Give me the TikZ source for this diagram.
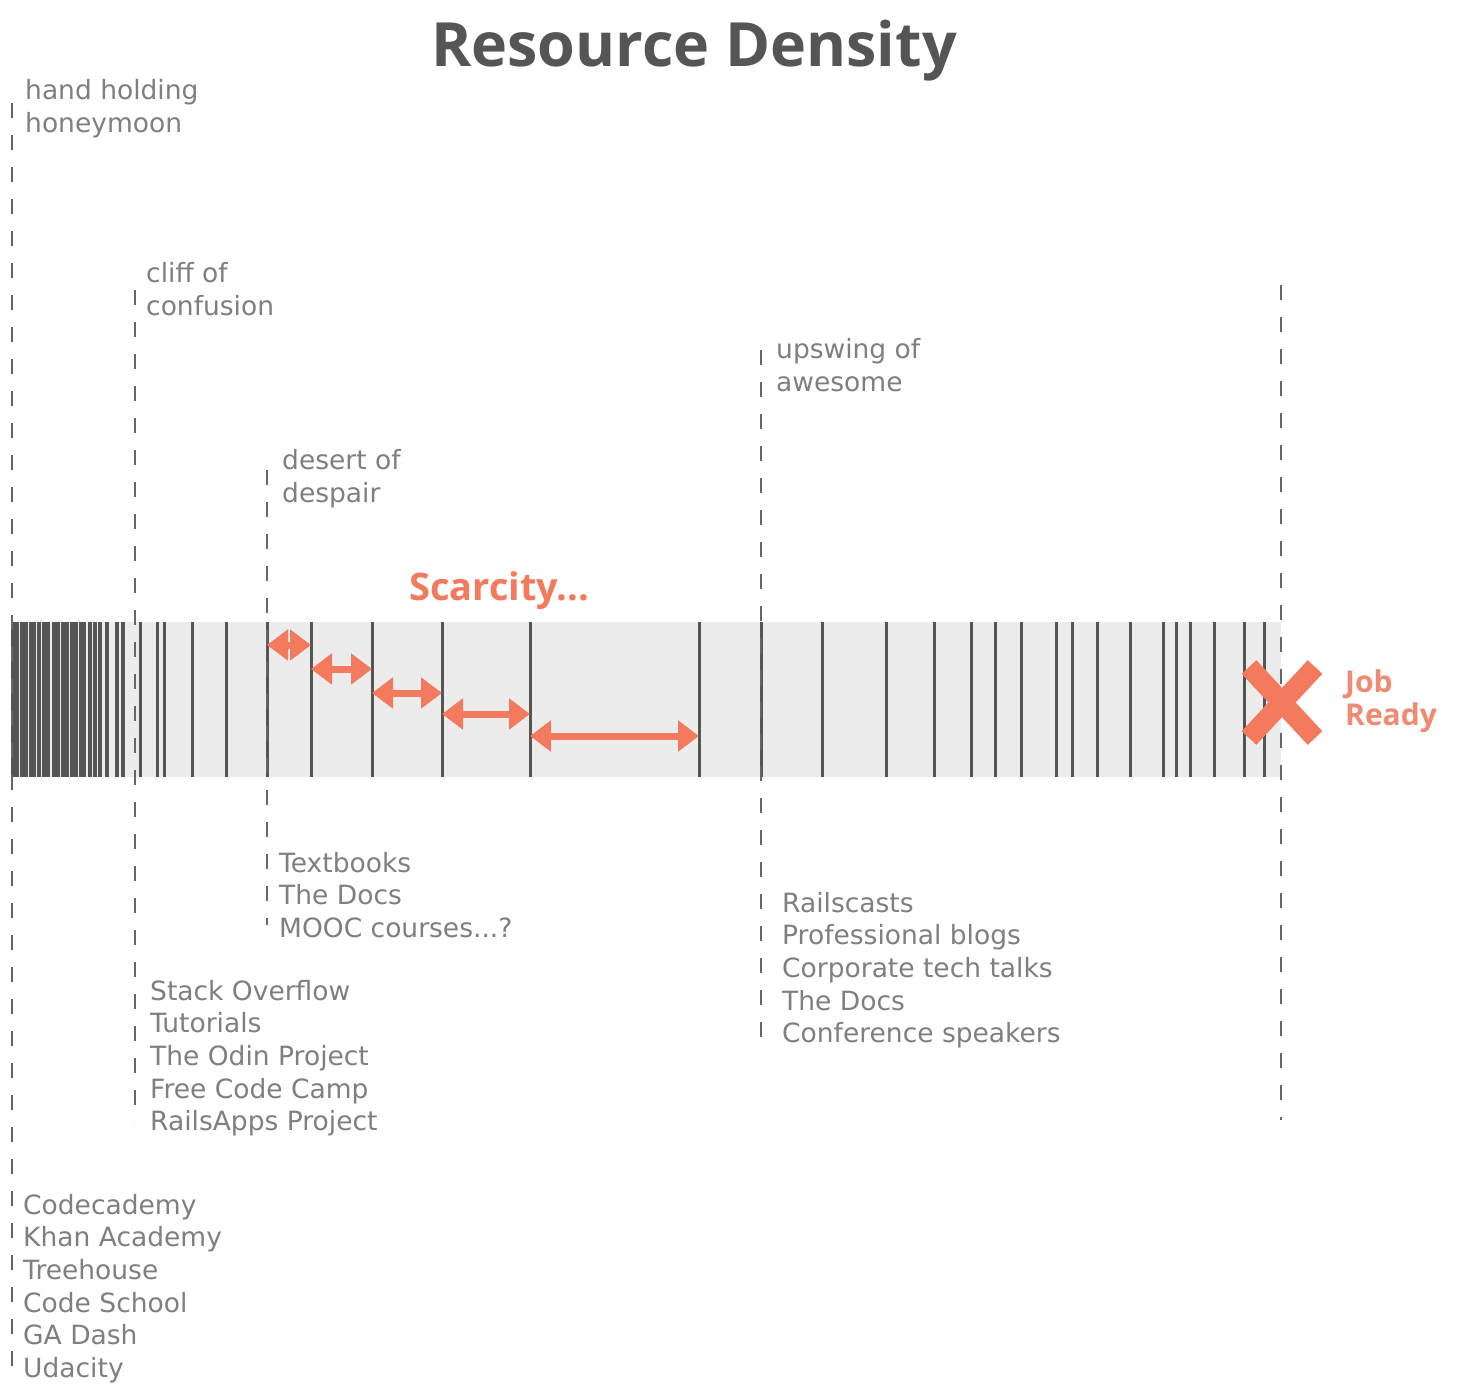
\documentclass[tikz,border=0pt]{standalone}
\usepackage{fontspec}
\setmainfont{DejaVu Sans}
\newfontfamily\headfont{Open Sans}
\usetikzlibrary{arrows.meta}
\definecolor{titlegray}{HTML}{555555}
\definecolor{lblgray}{HTML}{7F7F7F}
\definecolor{tickgray}{HTML}{555555}
\definecolor{dashgray}{HTML}{666666}
\definecolor{barbg}{HTML}{ECECEC}
\definecolor{salmon}{HTML}{F47A5E}
\definecolor{salmonlt}{HTML}{F08A72}
\tikzset{
  lbl/.style={anchor=base west, inner sep=0pt, text=lblgray, font=\fontsize{26.5}{33}\selectfont},
  tick/.style={draw=tickgray, line width=3pt},
  guide/.style={draw=dashgray, line width=2.4pt, dash pattern=on 15pt off 17pt},
  stip/.tip={Triangle[length=21pt 0 0,width=30pt 0 0]},
  sarrow/.style={draw=salmon, fill=salmon, line width=7pt, stip-stip},
  xmark/.style={draw=salmon, line width=20pt},
  headtxt/.style={anchor=base west, inner sep=0pt, font=\headfont\bfseries\fontsize{30}{33}\selectfont, text=salmonlt}
}
\begin{document}
\begin{tikzpicture}[x=1pt,y=-1pt]
\useasboundingbox (0,0) rectangle (1459,1394);
\fill[white] (0,0) rectangle (1459,1394);

% title
\node[anchor=base, inner sep=0pt, font=\headfont\bfseries\fontsize{61}{70}\selectfont, text=titlegray] (title) at (694,67) {Resource Density};

% bar background
\fill[barbg] (12,622) rectangle (1281,777);

% bar ticks
\foreach \x [count=\i] in {13,17,22,26,31,34,39,44,48,54,58,63,67,72,76,81,84,90,95,100,107,117,123}
  \draw[tick, line width=3.5pt] (\x,622) -- (\x,777);
\foreach \x [count=\i] in {140,157,164,192,226,267,311,372,442,530,699,761,822,886,934,971,995,1021,1056,1072,1097,1130,1163,1176,1190,1214,1244,1264}
  \draw[tick] (\x,622) -- (\x,777);

% dashed guides
\draw[guide] (12,103) -- (12,1380);
\draw[guide] (135,290) -- (135,1122);
\draw[guide] (267,470) -- (267,925);
\draw[guide] (761,350) -- (761,1040);
\draw[guide] (1281,285) -- (1281,1120);

% labels above
\foreach \t [count=\i] in {hand holding,honeymoon}
  \node[lbl] (hh\i) at (25,{100+33*(\i-1)}) {\t};
\foreach \t [count=\i] in {cliff of,confusion}
  \node[lbl] (cc\i) at (146,{282+33*(\i-1)}) {\t};
\foreach \t [count=\i] in {desert of,despair}
  \node[lbl] (dd\i) at (282,{469+33*(\i-1)}) {\t};
\foreach \t [count=\i] in {upswing of,awesome}
  \node[lbl] (ua\i) at (776,{358+33*(\i-1)}) {\t};

% labels below
\node[lbl] (tb1) at (279,872) {Textbooks};
\node[lbl] (tb2) at (279,904.7) {The Docs};
\node[lbl] (tb3) at (279,937.4) {MOOC courses...?};
\foreach \t [count=\i] in {Railscasts,Professional blogs,Corporate tech talks,The Docs,Conference speakers}
  \node[lbl] (rc\i) at (782,{912+32.7*(\i-1)}) {\t};
\foreach \t [count=\i] in {Stack Overflow,Tutorials,The Odin Project,Free Code Camp,RailsApps Project}
  \node[lbl] (so\i) at (150,{1000+32.7*(\i-1)}) {\t};
\foreach \t [count=\i] in {Codecademy,Khan Academy,Treehouse,Code School,GA Dash,Udacity}
  \node[lbl] (ca\i) at (23,{1214+32.7*(\i-1)}) {\t};

% scarcity
\node[anchor=base west, inner sep=0pt, font=\headfont\bfseries\fontsize{38}{44}\selectfont, text=salmon] (scar) at (409,600) {Scarcity...};

% arrows
\coordinate (a1l) at (267,645); \coordinate (a1r) at (311,645);
\coordinate (a2l) at (311,669); \coordinate (a2r) at (372,669);
\coordinate (a3l) at (372,693); \coordinate (a3r) at (442,693);
\coordinate (a4l) at (442,714); \coordinate (a4r) at (530,714);
\coordinate (a5l) at (530,736); \coordinate (a5r) at (699,736);
\draw[sarrow] (a1l) -- (a1r);
\draw[sarrow] (a2l) -- (a2r);
\draw[sarrow] (a3l) -- (a3r);
\draw[sarrow] (a4l) -- (a4r);
\draw[sarrow] (a5l) -- (a5r);

% X mark
\draw[xmark] (1249,667) -- (1315,738);
\draw[xmark] (1249,738) -- (1315,667);

% job ready
\node[headtxt] (job) at (1345,692) {Job};
\node[headtxt] (ready) at (1345,725) {Ready};
\end{tikzpicture}
\end{document}
